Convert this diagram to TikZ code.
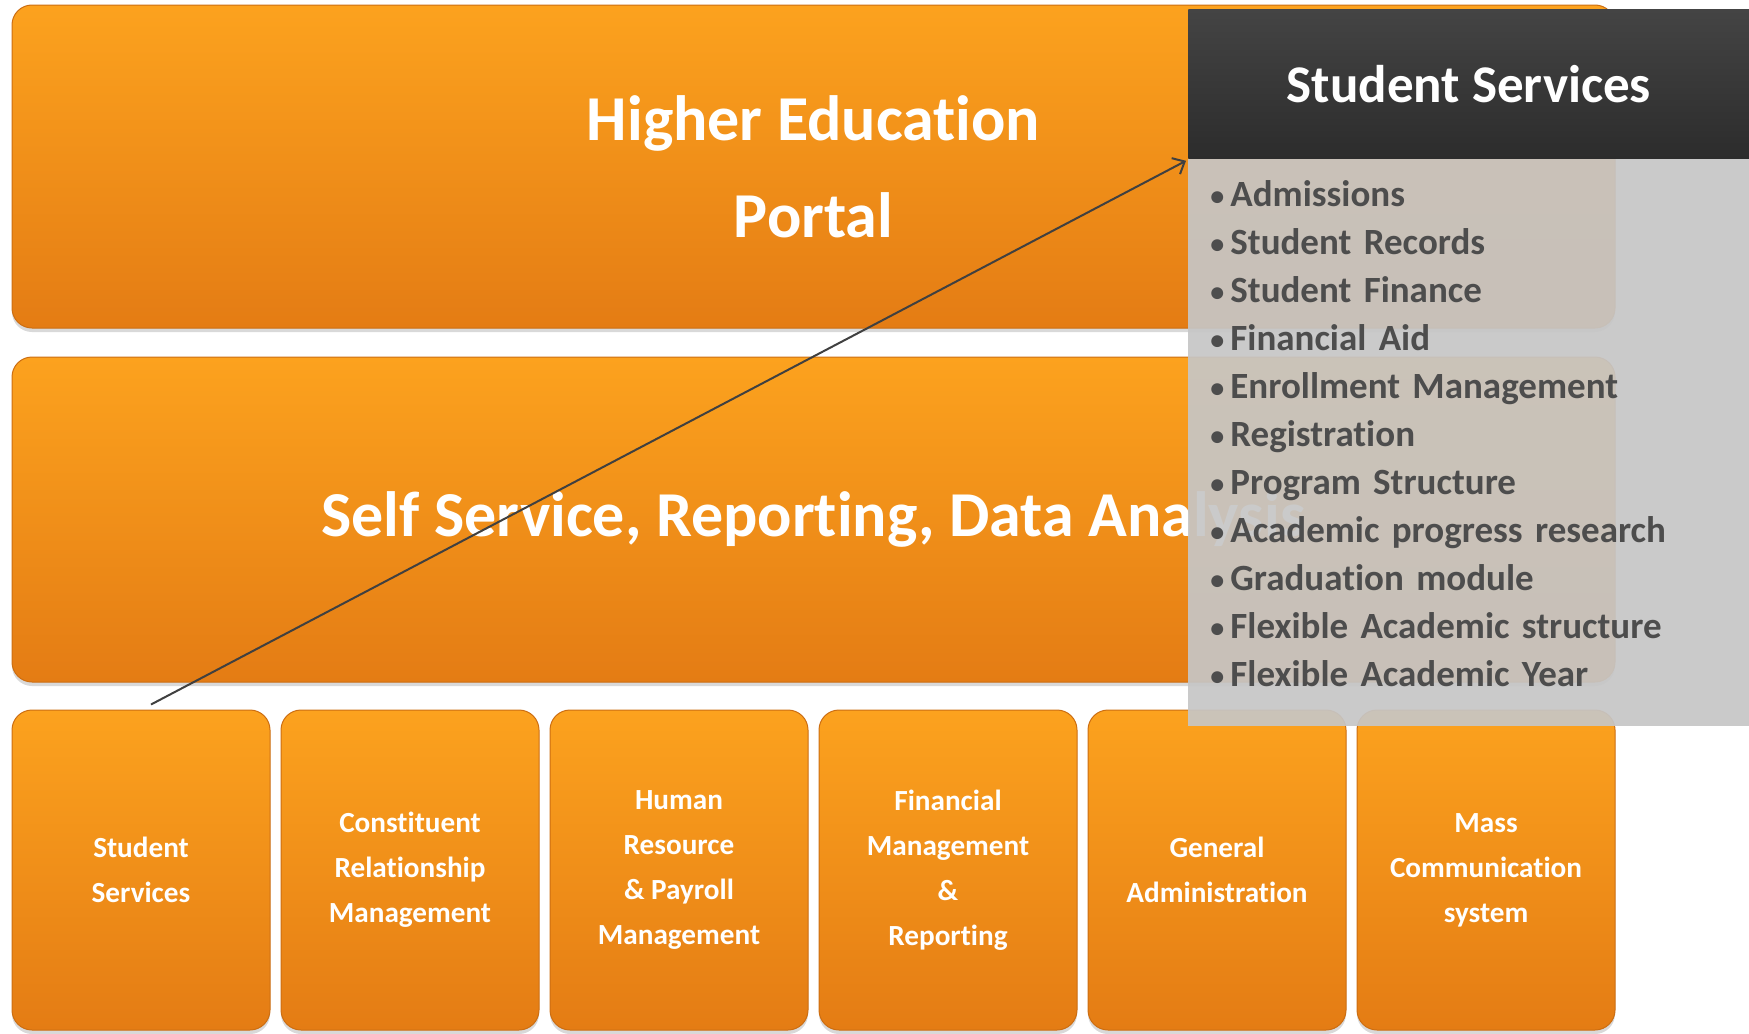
\documentclass[tikz,border=0pt]{standalone}
\usepackage{fontspec}
\setmainfont{Carlito}[Ligatures={NoCommon,NoContextual}, Contextuals=NoAlternate]
\usetikzlibrary{positioning}
\usetikzlibrary{shadows}
\usetikzlibrary{arrows.meta}
\definecolor{box-top}{HTML}{FCA21E}
\definecolor{box-bottom}{HTML}{E47C14}
\definecolor{box-edge}{HTML}{CC6E12}
\definecolor{head-top}{HTML}{444444}
\definecolor{head-bottom}{HTML}{2C2C2C}
\definecolor{panel-grey}{HTML}{C6C6C6}
\definecolor{item-grey}{HTML}{4D4D4D}
\definecolor{link-grey}{HTML}{404040}
\newcommand{\itm}[1]{\makebox[10pt][l]{\raisebox{.8pt}{\fontsize{14}{14}\selectfont\textbullet}}#1}

\begin{document}
\begin{tikzpicture}[
  x=0.5pt, y=-0.5pt,
  layer/.style={draw=box-edge, line width=.5pt, rounded corners=10pt, top color=box-top, bottom color=box-bottom, drop shadow={shadow xshift=0pt, shadow yshift=-2pt, opacity=.3}, text=white, align=center, font=\bfseries\fontsize{32}{48.5}\selectfont},
  module/.style={layer, minimum width=129pt, minimum height=160pt, inner sep=0pt, font=\bfseries\fontsize{14.6}{22.5}\selectfont},
  head/.style={top color=head-top, bottom color=head-bottom, text=white, minimum width=280.5pt, minimum height=74.5pt, inner sep=0pt, font=\bfseries\fontsize{26.5}{30}\selectfont},
  panel/.style={fill=panel-grey, fill opacity=.92, text opacity=1, text=item-grey, align=left, text width=258.5pt, inner xsep=11pt, minimum height=283.5pt, font=\bfseries\fontsize{18.5}{24}\selectfont}
]
\useasboundingbox (0,0) rectangle (1749,1033);

% Portal
\node[layer, minimum width=801.5pt, minimum height=161.5pt] (portal) at (813.5,166.5) {Higher Education\\Portal};

% Self service
\node[layer, minimum width=801.5pt, minimum height=162.5pt] (selfservice) at (813.5,519.5) {Self Service, Reporting, Data Analysis};

% Modules
\node[module] (students) at (141,870) {Student\\Services};
\node[module, right=5pt of students] (crm) {Constituent\\Relationship\\Management};
\node[module, right=5pt of crm] (hr) {Human\\Resource\\\& Payroll\\Management};
\node[module, right=5pt of hr] (finance) {Financial\\Management\\\&\\Reporting};
\node[module, right=5pt of finance] (admin) {General\\Administration};
\node[module, right=5pt of admin] (mass) {Mass\\Communication\\system};

% Student services detail
\node[head, anchor=north west] (detail) at (1188,9) {Student Services};
\node[panel, below=0pt of detail] (list) {%
\itm{Admissions}\\
\itm{Student Records}\\
\itm{Student Finance}\\
\itm{Financial Aid}\\
\itm{Enrollment Management}\\
\itm{Registration}\\
\itm{Program Structure}\\
\itm{Academic progress research}\\
\itm{Graduation module}\\
\itm{Flexible Academic structure}\\
\itm{Flexible Academic Year}\rule[-8.8pt]{0pt}{0pt}};

% Link
\draw[link-grey, line width=1pt, -{Straight Barb[length=5pt, width=9pt]}] ([xshift=5pt, yshift=2.5pt]students.north) to ([xshift=-1pt, yshift=-1pt]list.north west);
\end{tikzpicture}
\end{document}
